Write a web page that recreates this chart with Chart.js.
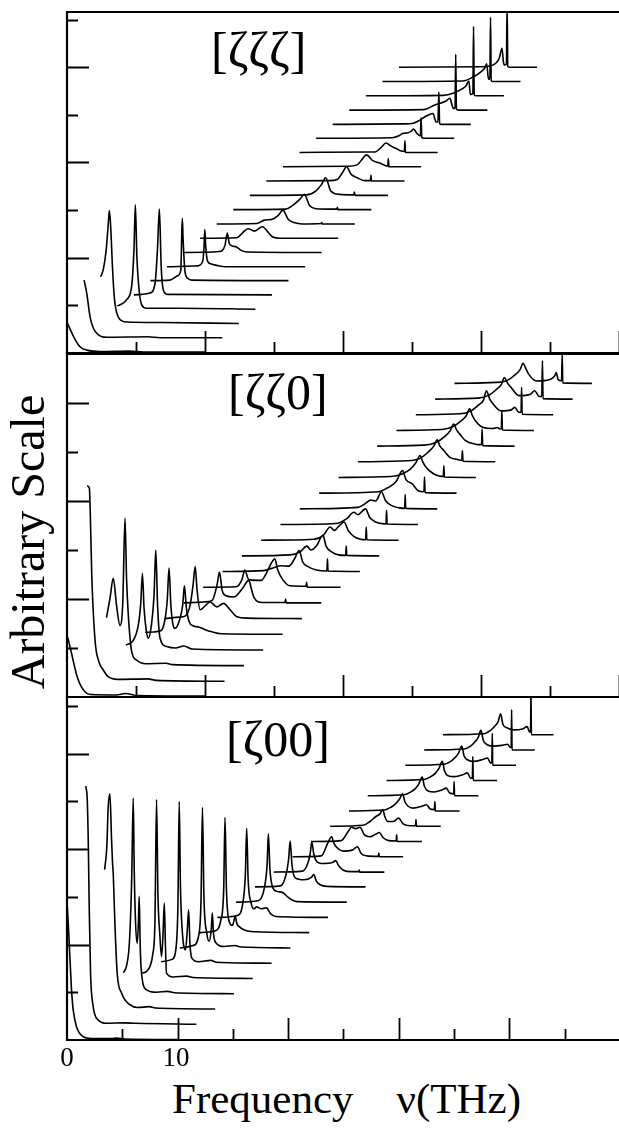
<!DOCTYPE html>
<html lang="en">
<head>
  <meta charset="UTF-8">
  <title>Phonon spectra waterfall</title>
  <script src="https://cdn.jsdelivr.net/npm/chart.js"></script>
  <style>
    body {
      margin: 0;
      background: #fff;
    }
    #wrap {
      position: relative;
      width: 619px;
      height: 1136px;
      overflow: hidden;
      font-family: "Liberation Serif", "Times New Roman", serif;
      color: #000;
    }
    canvas {
      position: absolute;
      left: 57px;
    }
    .txt {
      position: absolute;
      line-height: 1;
      white-space: pre;
    }
    .panel-label {
      font-size: 50px;
    }
    .tick-label {
      font-size: 27px;
      transform: translateX(-50%);
    }
  </style>
</head>
<body>
<div id="wrap">
  <canvas id="topChart" width="600" height="361" style="top:2px"></canvas>
  <canvas id="midChart" width="600" height="363" style="top:344px"></canvas>
  <canvas id="botChart" width="595" height="363" style="top:687px"></canvas>

  <div class="txt panel-label" style="left:211px; top:25px">[ζζζ]</div>
  <div class="txt panel-label" style="left:228px; top:367px">[ζζ0]</div>
  <div class="txt panel-label" style="left:226px; top:714px">[ζ00]</div>

  <div class="txt tick-label" style="left:67px; top:1044px">0</div>
  <div class="txt tick-label" style="left:176px; top:1044px">10</div>

  <div class="txt" style="left:172px; top:1077px; font-size:43px">Frequency    ν(THz)</div>
  <div class="txt" style="left:28px; top:542px; font-size:48px; transform:translate(-50%,-50%) rotate(-90deg)">Arbitrary Scale</div>
</div>

<script>
// ---------- [ζζζ] panel ----------
const topStartX = [0.04, 1.24, 2.44, 3.64, 4.84, 6.04, 7.24, 8.44, 9.64, 10.84, 12.04,
                   13.24, 14.44, 15.64, 16.84, 18.04, 19.24, 20.44, 21.64, 22.84, 24.04];
const topBaseY = [0.02, 0.32, 0.62, 0.92, 1.22, 1.52, 1.81, 2.11, 2.41, 2.71, 3.01,
                  3.31, 3.61, 3.91, 4.21, 4.51, 4.8, 5.1, 5.4, 5.7, 6.0];
const topTraces = [
  [[0,0.6],[0.43,0.33],[0.9,0.11],[1.4,0.04],[2.4,0.01],[4.5,0.02],[5.5,0],[10,0]],
  [[0,1.21],[0.19,0.93],[0.43,0.44],[0.67,0.2],[1.03,0.06],[1.63,0.01],[4.6,0.02],[5.5,0],[10,0]],
  [[0,0.98],[0.2,1.15],[0.4,1.55],[0.55,2.1],[0.63,2.37],[0.72,2.05],[0.85,1.2],[0.97,0.6],[1.1,0.3],[1.35,0.1],[1.9,0.03],[4.3,0.02],[10,0]],
  [[0,0.07],[0.4,0.12],[0.68,0.2],[1.04,0.48],[1.21,1.25],[1.31,2.19],[1.42,1.1],[1.6,0.35],[1.77,0.09],[2.1,0.02],[4.5,0.02],[10,0]],
  [[0,0],[1.17,0.04],[1.54,0.25],[1.71,0.95],[1.85,1.8],[1.98,0.6],[2.14,0.1],[2.45,0.01],[10,0]],
  [[0,0],[1.4,0.01],[1.97,0.1],[2.2,0.22],[2.26,0.85],[2.31,1.31],[2.37,0.85],[2.5,0.2],[2.7,0.05],[3.0,0.01],[10,0]],
  [[0,0],[2.2,0.02],[2.57,0.1],[2.68,0.4],[2.74,0.78],[2.8,0.45],[2.94,0.12],[3.2,0.06],[3.6,0.03],[4.2,0],[10,0]],
  [[0,0],[2.6,0.02],[3.0,0.15],[3.17,0.41],[3.3,0.2],[3.5,0.14],[3.8,0.12],[4.2,0.04],[4.6,0.01],[10,0]],
  [[0,0],[2.66,0.01],[3.09,0.12],[3.46,0.2],[3.94,0.15],[4.51,0.24],[4.94,0.12],[5.23,0.03],[5.8,0],[10,0]],
  [[0,0],[2.9,0.01],[3.46,0.08],[4.03,0.1],[4.46,0.18],[4.8,0.29],[5.17,0.1],[5.6,0.03],[6.2,0],[7.56,0.01],[7.6,0.03],[7.64,0],[10,0]],
  [[0,0],[3.8,0.01],[4.26,0.08],[4.83,0.22],[5.14,0.32],[5.54,0.08],[5.97,0.02],[7.5,0.01],[7.54,0.05],[7.58,0],[10,0]],
  [[0,0],[4.1,0.01],[4.77,0.09],[5.2,0.23],[5.49,0.37],[5.86,0.09],[6.5,0.02],[7.53,0.01],[7.57,0.07],[7.61,0],[10,0]],
  [[0,0],[4.5,0.01],[5.14,0.035],[5.5,0.175],[5.8,0.3],[6.14,0.14],[6.57,0.07],[7.1,0.01],[7.53,0.01],[7.57,0.12],[7.61,0],[10,0]],
  [[0,0],[4.7,0.01],[5.37,0.04],[5.74,0.16],[6.03,0.25],[6.51,0.13],[7.09,0.07],[7.5,0.02],[7.59,0.02],[7.63,0.175],[7.67,0],[10,0]],
  [[0,0],[5.0,0.01],[5.46,0.01],[5.89,0.1],[6.26,0.2],[6.6,0.14],[7.03,0.08],[7.31,0.035],[7.59,0.02],[7.63,0.245],[7.67,0],[10,0]],
  [[0,0],[5.5,0.01],[6.0,0.05],[6.26,0.1],[6.6,0.11],[6.9,0.15],[7.06,0.19],[7.3,0.1],[7.55,0.05],[7.6,0.43],[7.65,0.02],[7.8,0],[10,0]],
  [[0,0],[5.2,0.01],[5.77,0.02],[6.2,0.07],[6.77,0.175],[7.26,0.23],[7.49,0.05],[7.62,0.05],[7.69,0.68],[7.74,0.02],[7.9,0],[10,0]],
  [[0,0],[5.4,0.01],[6.14,0.1],[7.0,0.19],[7.29,0.25],[7.45,0.1],[7.55,0.03],[7.66,0.05],[7.71,1.17],[7.76,0.02],[7.9,0],[10,0]],
  [[0,0],[5.6,0.01],[6.37,0.06],[7.0,0.15],[7.23,0.2],[7.46,0.31],[7.57,0.03],[7.75,0.05],[7.8,1.46],[7.85,0.02],[8.0,0],[10,0]],
  [[0,0],[5.8,0.01],[6.6,0.1],[7.2,0.22],[7.4,0.28],[7.55,0.37],[7.68,0.05],[7.78,0.05],[7.83,1.35],[7.88,0.02],[8.0,0],[10,0]],
  [[0,0],[6.0,0.01],[6.83,0.05],[7.26,0.19],[7.46,0.4],[7.56,0.12],[7.63,0.05],[7.78,0.06],[7.83,1.3],[7.88,0.02],[8.0,0],[10,0]]
];

// ---------- [ζζ0] panel ----------
const midStartX = [0.06, 1.46, 2.86, 4.26, 5.66, 7.06, 8.46, 9.86, 11.26, 12.66, 14.06,
                   15.46, 16.86, 18.26, 19.66, 21.06, 22.46, 23.86, 25.26, 26.66, 28.06];
const midBaseY = [0.02, 0.32, 0.64, 0.96, 1.28, 1.6, 1.92, 2.24, 2.56, 2.88, 3.2,
                  3.52, 3.84, 4.16, 4.48, 4.8, 5.12, 5.44, 5.76, 6.08, 6.4];
const midTraces = [
  [[0,1.19],[0.23,0.92],[0.66,0.41],[1.09,0.14],[1.66,0.03],[3.5,0.02],[4.2,0.05],[5.0,0.01],[9.95,0]],
  [[0,3.99],[0.16,3.94],[0.22,3.5],[0.33,2.2],[0.57,0.84],[0.85,0.4],[1.17,0.23],[1.5,0.1],[2.16,0.04],[4.4,0.05],[5,0.02],[9.95,0]],
  [[0,0.98],[0.25,1.37],[0.49,1.78],[0.74,1.2],[0.98,0.82],[1.18,1.3],[1.34,3.01],[1.45,1.8],[1.58,1.03],[1.83,0.28],[2.19,0.11],[2.8,0.04],[4.3,0.05],[4.8,0.02],[9.95,0]],
  [[0,0.1],[0.5,0.18],[0.9,0.5],[1.08,0.95],[1.2,1.56],[1.32,0.85],[1.48,0.4],[1.63,0.24],[1.85,0.5],[2.04,1.1],[2.17,2.04],[2.3,0.9],[2.48,0.24],[2.96,0.07],[3.6,0.04],[4.2,0.08],[4.8,0.02],[9.95,0]],
  [[0,0.04],[1.0,0.06],[1.4,0.25],[1.6,0.7],[1.73,1.35],[1.86,0.6],[2.0,0.22],[2.17,0.12],[2.5,0.3],[2.72,0.6],[2.84,0.99],[2.98,0.55],[3.18,0.26],[3.5,0.17],[3.86,0.15],[4.3,0.1],[4.83,0.05],[5.5,0.01],[9.95,0]],
  [[0,0],[1.13,0.03],[1.49,0.05],[1.86,0.28],[2.07,0.69],[2.22,1.06],[2.36,0.58],[2.58,0.18],[2.94,0.26],[3.3,0.34],[3.79,0.24],[4.27,0.31],[4.75,0.18],[5.24,0.04],[6.0,0.01],[9.95,0]],
  [[0,0],[1.5,0.02],[2.05,0.05],[2.42,0.39],[2.58,0.63],[2.78,0.25],[3.02,0.15],[3.62,0.12],[4.23,0.29],[4.71,0.46],[4.88,0.3],[5.07,0.12],[5.68,0.01],[7.33,0.01],[7.37,0.08],[7.41,0],[9.95,0]],
  [[0,0],[2.4,0.01],[2.8,0.15],[3.02,0.35],[3.26,0.17],[3.4,0.15],[4.2,0.14],[4.6,0.3],[4.95,0.5],[5.19,0.58],[5.4,0.35],[5.8,0.14],[6.28,0.03],[7.45,0.02],[7.49,0.1],[7.53,0],[9.95,0]],
  [[0,0],[3.0,0.02],[3.5,0.06],[4.2,0.12],[4.8,0.11],[5.2,0.25],[5.56,0.43],[5.8,0.2],[6.2,0.1],[6.8,0.03],[7.56,0.01],[7.6,0.26],[7.64,0.01],[9.95,0]],
  [[0,0],[3.5,0.02],[4.2,0.08],[4.71,0.2],[5.0,0.12],[5.4,0.2],[5.87,0.42],[6.1,0.2],[6.5,0.08],[7.0,0.02],[7.52,0.01],[7.56,0.2],[7.6,0.01],[9.95,0]],
  [[0,0],[3.8,0.02],[4.5,0.1],[5.0,0.27],[5.3,0.2],[5.6,0.28],[6.01,0.37],[6.3,0.2],[6.7,0.08],[7.2,0.02],[7.57,0.01],[7.61,0.27],[7.65,0.01],[9.95,0]],
  [[0,0],[4.0,0.02],[4.8,0.12],[5.31,0.25],[5.6,0.2],[6.16,0.32],[6.45,0.15],[6.9,0.05],[7.3,0.02],[7.64,0.01],[7.68,0.29],[7.72,0.01],[9.95,0]],
  [[0,0],[4.2,0.03],[4.8,0.12],[5.14,0.18],[5.5,0.16],[5.91,0.35],[6.2,0.17],[6.7,0.06],[7.2,0.02],[7.59,0.01],[7.63,0.29],[7.67,0.01],[9.95,0]],
  [[0,0],[4.3,0.03],[4.9,0.1],[5.3,0.17],[5.6,0.25],[6.03,0.46],[6.3,0.27],[6.74,0.19],[7.17,0.05],[7.59,0.03],[7.63,0.33],[7.67,0.01],[9.95,0]],
  [[0,0],[3.8,0.02],[4.6,0.07],[5.2,0.17],[5.6,0.3],[5.91,0.45],[6.1,0.32],[6.34,0.21],[6.91,0.07],[7.3,0.03],[7.59,0.02],[7.63,0.24],[7.67,0.01],[9.95,0]],
  [[0,0],[3.6,0.02],[4.5,0.07],[5.1,0.2],[5.5,0.32],[5.74,0.45],[5.95,0.32],[6.23,0.23],[6.66,0.09],[7.2,0.05],[7.53,0.03],[7.57,0.23],[7.62,0.01],[9.95,0]],
  [[0,0],[3.4,0.02],[4.3,0.08],[4.9,0.2],[5.3,0.32],[5.54,0.45],[5.75,0.33],[5.97,0.25],[6.4,0.11],[7.11,0.04],[7.56,0.03],[7.6,0.35],[7.64,0.01],[9.95,0]],
  [[0,0],[3.3,0.02],[4.1,0.08],[4.7,0.2],[5.05,0.3],[5.29,0.44],[5.5,0.3],[5.71,0.2],[6.29,0.06],[7.0,0.04],[7.29,0.06],[7.5,0.03],[7.59,0.03],[7.63,0.4],[7.67,0.01],[9.95,0]],
  [[0,0],[3.2,0.02],[4.0,0.08],[4.55,0.2],[4.9,0.3],[5.11,0.49],[5.35,0.32],[5.6,0.22],[6.17,0.08],[6.9,0.1],[7.17,0.15],[7.45,0.05],[7.62,0.05],[7.66,0.56],[7.7,0.01],[9.95,0]],
  [[0,0],[3.1,0.02],[3.9,0.08],[4.45,0.2],[4.8,0.3],[5.0,0.44],[5.25,0.32],[5.49,0.24],[6.06,0.07],[6.9,0.1],[7.2,0.17],[7.5,0.06],[7.72,0.05],[7.77,0.78],[7.81,0.01],[9.95,0]],
  [[0,0],[3.0,0.02],[3.8,0.06],[4.4,0.18],[4.75,0.28],[4.97,0.41],[5.17,0.3],[5.37,0.19],[5.94,0.05],[6.9,0.08],[7.25,0.15],[7.37,0.22],[7.5,0.08],[7.75,0.05],[7.8,0.6],[7.84,0.01],[9.95,0]]
];

// ---------- [ζ00] panel ----------
const botStartX = [0, 1.7, 3.4, 5.1, 6.8, 8.5, 10.2, 11.9, 13.6, 15.3, 17.0,
                   18.7, 20.4, 22.1, 23.8, 25.5, 27.2, 28.9, 30.6, 32.3, 34.0];
const botBaseY = [0.01, 0.33, 0.65, 0.97, 1.29, 1.61, 1.93, 2.25, 2.57, 2.89, 3.21,
                  3.52, 3.84, 4.16, 4.48, 4.8, 5.12, 5.44, 5.76, 6.08, 6.4];
const botTraces = [
  [[0,2.89],[0.11,2.44],[0.26,1.74],[0.41,1.04],[0.56,0.62],[0.86,0.27],[1.46,0.06],[2.2,0.02],[4.0,0.02],[4.5,0.03],[5.2,0.01],[10,0]],
  [[0,4.99],[0.13,4.71],[0.22,3.87],[0.31,2.47],[0.43,1.07],[0.67,0.37],[1.12,0.09],[1.88,0.02],[3.5,0.03],[4.5,0.02],[10,0]],
  [[0,2.92],[0.2,3.4],[0.33,4.25],[0.48,4.51],[0.63,3.55],[0.72,3.05],[0.78,2.85],[0.93,1.8],[1.14,0.75],[1.54,0.33],[2.29,0.09],[3.0,0.03],[4.0,0.05],[4.6,0.02],[10,0]],
  [[0,0.44],[0.3,0.6],[0.55,1.1],[0.75,2.4],[0.89,4.1],[0.98,2.6],[1.1,1.5],[1.25,1.06],[1.36,1.5],[1.43,2.04],[1.52,1.0],[1.64,0.43],[2.1,0.08],[3.0,0.03],[4.0,0.05],[4.6,0.02],[10,0]],
  [[0,0.11],[0.4,0.15],[0.7,0.25],[0.95,0.5],[1.15,1.16],[1.3,3.75],[1.42,1.8],[1.6,0.9],[1.75,0.46],[1.88,0.9],[2.0,1.58],[2.1,0.7],[2.2,0.11],[2.8,0.03],[4,0.05],[4.6,0.02],[10,0]],
  [[0,0.03],[1.0,0.08],[1.35,0.3],[1.53,1.2],[1.65,3.39],[1.76,1.6],[1.95,0.6],[2.22,0.28],[2.38,0.7],[2.5,1.12],[2.62,0.4],[2.8,0.1],[3.4,0.03],[4.5,0.06],[5,0.02],[10,0]],
  [[0,0],[1.2,0.05],[1.7,0.25],[1.92,1.0],[2.05,2.95],[2.18,1.1],[2.45,0.3],[2.66,0.14],[2.85,0.4],[2.94,0.73],[3.05,0.3],[3.3,0.1],[4.0,0.03],[5.0,0.05],[5.5,0.02],[10,0]],
  [[0,0],[1.5,0.04],[2.0,0.25],[2.27,0.9],[2.39,2.42],[2.52,0.9],[2.75,0.25],[3.05,0.15],[3.2,0.25],[3.31,0.35],[3.45,0.2],[3.7,0.12],[4.2,0.05],[5.0,0.02],[10,0]],
  [[0,0],[1.8,0.04],[2.3,0.3],[2.53,0.9],[2.65,1.87],[2.78,0.8],[3.05,0.3],[3.3,0.18],[3.54,0.22],[4.0,0.18],[4.44,0.2],[4.8,0.08],[5.3,0.02],[10,0]],
  [[0,0],[2.0,0.03],[2.55,0.3],[2.8,0.8],[2.91,1.43],[3.05,0.7],[3.27,0.33],[3.63,0.23],[4.2,0.2],[4.6,0.12],[5.1,0.04],[5.5,0.01],[10,0]],
  [[0,0],[2.3,0.02],[2.8,0.25],[3.05,0.6],[3.18,0.96],[3.35,0.45],[3.64,0.19],[4.43,0.15],[5.1,0.2],[5.32,0.26],[5.55,0.12],[5.86,0.05],[6.5,0.01],[10,0]],
  [[0,0],[2.6,0.02],[3.1,0.2],[3.3,0.4],[3.44,0.64],[3.6,0.4],[3.8,0.25],[4.34,0.18],[5.3,0.2],[5.59,0.24],[5.9,0.12],[6.3,0.04],[7,0.01],[7.69,0.01],[7.73,0.04],[7.77,0],[10,0]],
  [[0,0],[2.6,0.02],[3.17,0.28],[3.53,0.42],[3.75,0.28],[3.98,0.2],[4.6,0.12],[5.4,0.14],[5.86,0.21],[6.2,0.07],[6.7,0.02],[7.76,0.01],[7.8,0.08],[7.84,0],[10,0]],
  [[0,0],[2.7,0.02],[3.3,0.2],[3.64,0.3],[4.0,0.27],[4.39,0.3],[4.8,0.14],[5.3,0.1],[5.8,0.15],[6.14,0.19],[6.5,0.08],[7.0,0.02],[7.67,0.01],[7.71,0.14],[7.75,0],[10,0]],
  [[0,0],[3.0,0.02],[3.6,0.1],[4.1,0.2],[4.5,0.26],[4.75,0.35],[4.95,0.2],[5.2,0.1],[5.7,0.1],[6.19,0.17],[6.6,0.05],[7.2,0.01],[7.72,0.01],[7.76,0.14],[7.8,0],[10,0]],
  [[0,0],[3.2,0.02],[3.8,0.08],[4.2,0.15],[4.55,0.24],[4.85,0.36],[5.05,0.2],[5.35,0.1],[5.8,0.06],[6.6,0.1],[7.02,0.13],[7.35,0.04],[7.73,0.03],[7.77,0.2],[7.81,0],[10,0]],
  [[0,0],[3.3,0.02],[3.9,0.08],[4.3,0.15],[4.62,0.25],[4.92,0.39],[5.12,0.2],[5.45,0.1],[6.0,0.08],[6.7,0.12],[7.09,0.16],[7.45,0.05],[7.77,0.04],[7.81,0.3],[7.85,0],[10,0]],
  [[0,0],[3.4,0.02],[4.0,0.08],[4.4,0.15],[4.75,0.26],[5.04,0.4],[5.24,0.2],[5.56,0.1],[6.1,0.08],[6.9,0.12],[7.3,0.16],[7.6,0.05],[7.76,0.05],[7.8,0.5],[7.84,0],[10,0]],
  [[0,0],[3.5,0.02],[4.1,0.08],[4.5,0.16],[4.82,0.26],[5.1,0.4],[5.3,0.2],[5.65,0.11],[6.2,0.08],[7.0,0.12],[7.44,0.15],[7.7,0.05],[7.82,0.05],[7.86,0.67],[7.9,0],[10,0]],
  [[0,0],[3.6,0.02],[4.2,0.08],[4.6,0.17],[4.9,0.27],[5.13,0.41],[5.35,0.2],[5.7,0.11],[6.3,0.08],[7.1,0.1],[7.55,0.12],[7.8,0.05],[7.87,0.05],[7.91,0.84],[7.95,0],[10,0]],
  [[0,0],[3.7,0.02],[4.3,0.09],[4.7,0.18],[5.0,0.28],[5.21,0.44],[5.42,0.22],[5.82,0.14],[6.4,0.1],[7.2,0.12],[7.61,0.17],[7.85,0.05],[7.92,0.05],[7.96,0.8],[8.0,0],[10,0]]
];

// each spectrum is shifted right and up (waterfall)
function buildSets(startX, baseY, traces) {
  return traces.map((pts, k) => ({
    data: pts.map(p => ({ x: startX[k] + p[0], y: baseY[k] + p[1] })),
    borderColor: '#000',
    borderWidth: 1.6,
    pointRadius: 0,
    fill: false,
    cubicInterpolationMode: 'monotone'
  }));
}

// frame + inward ticks (long at majors, short at minors)
const framePlugin = {
  id: 'frame',
  afterDatasetsDraw(chart, args, opts) {
    const { ctx, chartArea: a, scales: { x, y } } = chart;
    ctx.save();
    ctx.strokeStyle = '#000';
    ctx.lineCap = 'butt';

    ctx.lineWidth = 1.8;
    ctx.beginPath();
    for (let v = opts.xStep; v < x.max - 0.01; v += opts.xStep) {
      const px = Math.round(x.getPixelForValue(v)) + 0.5;
      const len = Math.round(v / opts.xStep) % 2 === 0 ? 22 : 11;
      ctx.moveTo(px, a.bottom);
      ctx.lineTo(px, a.bottom - len);
    }
    for (let v = 1; v < y.max - 0.05; v += 1) {
      const py = Math.round(y.getPixelForValue(v)) + 0.5;
      const len = v % 2 === 0 ? 22 : 11;
      ctx.moveTo(a.left, py);
      ctx.lineTo(a.left + len, py);
    }
    ctx.stroke();

    ctx.lineWidth = 2.2;
    ctx.beginPath();
    ctx.moveTo(a.right + 5, a.top);
    ctx.lineTo(a.left, a.top);
    ctx.lineTo(a.left, a.bottom);
    ctx.lineTo(a.right + 5, a.bottom);
    ctx.stroke();
    ctx.restore();
  }
};

function makeChart(id, startX, baseY, traces, xMax, yMax, xStep) {
  return new Chart(document.getElementById(id), {
    type: 'line',
    data: { datasets: buildSets(startX, baseY, traces) },
    options: {
      responsive: false,
      devicePixelRatio: 1,
      animation: false,
      events: [],
      layout: { padding: 10 },
      scales: {
        x: { type: 'linear', min: 0, max: xMax, display: false },
        y: { type: 'linear', min: 0, max: yMax, display: false }
      },
      plugins: {
        legend: { display: false },
        tooltip: { enabled: false },
        frame: { xStep: xStep }
      }
    },
    plugins: [framePlugin]
  });
}

makeChart('topChart', topStartX, topBaseY, topTraces, 42, 7.16, 5);
makeChart('midChart', midStartX, midBaseY, midTraces, 42, 7.0, 5);
makeChart('botChart', botStartX, botBaseY, botTraces, 52, 7.19, 5);
</script>
</body>
</html>
